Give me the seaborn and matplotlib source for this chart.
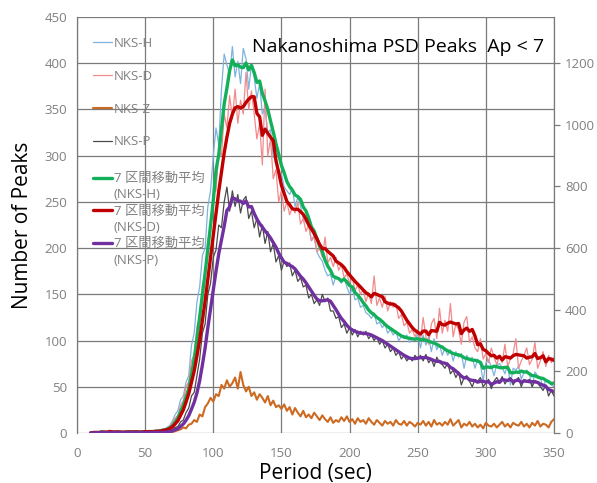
import numpy as np
import pandas as pd
import matplotlib
matplotlib.use("Agg")
import matplotlib.pyplot as plt
from matplotlib.lines import Line2D
import seaborn as sns

# ---------------- data ----------------
period = np.arange(10, 352, 2)  # sec

nks_h = [
    0, 1, 0, 1, 2, 0, 1, 1, 0, 2,
    1, 0, 1, 2, 1, 1, 2, 0, 1, 2,
    1, 2, 1, 2, 3, 2, 4, 4, 6, 8,
    13, 20, 24, 36, 40, 55, 62, 95, 108, 142,
    158, 192, 200, 245, 262, 300, 330, 312, 372, 410,
    398, 388, 418, 385, 402, 378, 416, 405, 372, 398,
    385, 362, 378, 345, 352, 325, 328, 298, 300, 280,
    280, 266, 262, 258, 265, 245, 255, 246, 232, 228,
    224, 208, 214, 196, 190, 186, 176, 170, 172, 160,
    170, 166, 162, 168, 158, 150, 156, 144, 146, 136,
    138, 130, 128, 124, 130, 118, 120, 114, 118, 108,
    112, 106, 110, 100, 104, 102, 106, 98, 102, 100,
    108, 92, 106, 95, 104, 88, 102, 90, 96, 84,
    92, 84, 90, 78, 88, 82, 86, 70, 84, 79,
    82, 70, 80, 74, 56, 76, 79, 72, 62, 74,
    75, 71, 64, 74, 52, 70, 68, 72, 58, 66,
    68, 64, 50, 66, 62, 60, 48, 58, 56, 52,
    50,
]

nks_d = [
    0, 1, 1, 0, 2, 1, 0, 3, 1, 0,
    1, 2, 0, 1, 2, 1, 0, 2, 1, 1,
    2, 1, 2, 1, 3, 2, 3, 4, 5, 7,
    11, 16, 19, 30, 35, 50, 55, 78, 85, 115,
    125, 160, 170, 210, 218, 260, 262, 305, 300, 345,
    330, 365, 340, 372, 335, 360, 345, 390, 350, 370,
    345, 318, 335, 290, 372, 300, 318, 275, 285, 250,
    262, 240, 250, 236, 244, 238, 250, 226, 232, 218,
    225, 208, 212, 196, 200, 190, 212, 184, 190, 180,
    190, 176, 182, 168, 172, 162, 168, 154, 160, 150,
    155, 142, 152, 140, 170, 138, 146, 136, 148, 132,
    142, 136, 140, 124, 128, 116, 120, 108, 112, 104,
    112, 100, 125, 104, 96, 118, 124, 102, 135, 108,
    122, 110, 140, 104, 118, 112, 96, 120, 126, 98,
    104, 92, 88, 102, 80, 86, 76, 92, 82, 74,
    84, 76, 96, 72, 80, 86, 102, 70, 78, 84,
    92, 74, 80, 98, 70, 78, 88, 72, 84, 76,
    82,
]

nks_z = [
    0, 0, 1, 0, 0, 1, 0, 0, 0, 1,
    0, 0, 1, 0, 0, 0, 1, 0, 0, 1,
    0, 1, 0, 0, 1, 0, 1, 1, 1, 2,
    1, 2, 3, 4, 6, 5, 9, 10, 14, 12,
    20, 18, 28, 32, 38, 34, 42, 40, 52, 48,
    57, 50, 54, 60, 48, 66, 52, 45, 50, 40,
    44, 36, 42, 38, 33, 40, 30, 35, 28, 30,
    26, 31, 24, 28, 20, 27, 22, 18, 24, 17,
    20, 16, 22, 18, 14, 19, 15, 12, 17, 11,
    14, 12, 17, 13, 18, 12, 15, 10, 16, 12,
    14, 10, 16, 12, 9, 14, 11, 8, 13, 10,
    12, 8, 14, 10, 9, 13, 8, 12, 10, 7,
    11, 9, 13, 8, 12, 7, 14, 9, 11, 8,
    12, 9, 15, 8, 11, 14, 6, 10, 8, 12,
    7, 10, 6, 9, 5, 11, 8, 7, 10, 6,
    9, 12, 7, 10, 6, 11, 9, 8, 12, 7,
    10, 6, 11, 8, 13, 7, 10, 9, 6, 12,
    15,
]

nks_p = [
    0, 0, 1, 0, 0, 1, 0, 0, 1, 0,
    0, 1, 0, 0, 1, 0, 1, 0, 0, 1,
    0, 1, 0, 1, 1, 0, 1, 1, 2, 2,
    4, 6, 7, 12, 14, 22, 27, 40, 44, 62,
    80, 108, 118, 150, 162, 190, 198, 225, 222, 250,
    266, 240, 262, 245, 258, 238, 252, 256, 232, 240,
    222, 232, 212, 225, 205, 218, 196, 205, 185, 192,
    176, 186, 180, 184, 170, 176, 164, 168, 158, 160,
    146, 150, 140, 144, 138, 150, 142, 146, 132, 132,
    124, 126, 114, 118, 108, 114, 106, 112, 104, 110,
    106, 110, 102, 106, 100, 104, 96, 100, 92, 96,
    88, 92, 84, 88, 80, 84, 78, 82, 78, 84,
    80, 84, 78, 85, 76, 80, 72, 82, 76, 74,
    70, 76, 64, 68, 60, 66, 52, 60, 62, 56,
    50, 58, 56, 60, 50, 54, 58, 48, 56, 60,
    55, 61, 53, 58, 60, 52, 57, 60, 50, 58,
    56, 58, 50, 57, 54, 50, 46, 52, 40, 46,
    40,
]

raw_labels = ["NKS-H", "NKS-D", "NKS-Z", "NKS-P"]
ma_label = "7 区間移動平均"
ma_targets = ["NKS-H", "NKS-D", "NKS-P"]
title_text = "Nakanoshima PSD Peaks  Ap < 7"
x_label = "Period (sec)"
y_label = "Number of Peaks"
x_ticks = [0, 50, 100, 150, 200, 250, 300, 350]
y_ticks = [0, 50, 100, 150, 200, 250, 300, 350, 400, 450]
y2_ticks = [0, 200, 400, 600, 800, 1000, 1200]

MA_WINDOW = 4  # 7-sec trailing window on the 2-sec grid

# ---------------- build data ----------------
df = pd.DataFrame({"Period": period, "NKS-H": nks_h, "NKS-D": nks_d,
                   "NKS-Z": nks_z, "NKS-P": nks_p})
for k in ma_targets:
    df["MA " + k] = df[k].rolling(MA_WINDOW, min_periods=1).mean()

# ---------------- style ----------------
sns.set_theme(style="white")
plt.rcParams["font.family"] = ["Open Sans", "Noto Sans CJK JP", "DejaVu Sans"]

raw_colors = {"NKS-H": "#7fb3df", "NKS-D": "#f28a8c", "NKS-Z": "#cc6a22", "NKS-P": "#4a4a4a"}
raw_lw = {"NKS-H": 0.9, "NKS-D": 0.9, "NKS-Z": 1.5, "NKS-P": 0.9}
ma_colors = {"NKS-H": "#13b05a", "NKS-D": "#c00000", "NKS-P": "#7030a0"}
grid_c = "#7a7a7a"
tick_c = "#808080"

fig = plt.figure(figsize=(5.97, 4.83), dpi=100)
ax = fig.add_axes([77 / 597, 50 / 483, 477 / 597, 416 / 483])

for k in raw_labels:
    sns.lineplot(data=df, x="Period", y=k, ax=ax, color=raw_colors[k],
                 linewidth=raw_lw[k], zorder=3)
for k in ma_targets:
    sns.lineplot(data=df, x="Period", y="MA " + k, ax=ax, color=ma_colors[k],
                 linewidth=2.4, zorder=4)

ax.set_xlim(0, 350)
ax.set_ylim(0, 450)
ax.set_xticks(x_ticks)
ax.set_yticks(y_ticks)
ax.grid(True, color=grid_c, linewidth=0.9)
ax.set_axisbelow(True)
for s in ax.spines.values():
    s.set_visible(False)
ax.spines["left"].set_visible(True)
ax.spines["left"].set_color(grid_c)
ax.spines["left"].set_linewidth(0.9)
ax.tick_params(axis="both", length=0, labelsize=9.5, labelcolor=tick_c)
ax.tick_params(axis="x", pad=10)
ax.tick_params(axis="y", pad=7)
ax.set_xlabel(x_label, fontsize=15, color="black", labelpad=2)
ax.set_ylabel(y_label, fontsize=15, color="black", labelpad=8)

ax2 = ax.twinx()
ax2.set_ylim(0, 1350)
ax2.set_yticks(y2_ticks)
for s in ax2.spines.values():
    s.set_visible(False)
ax2.spines["right"].set_visible(True)
ax2.spines["right"].set_color(grid_c)
ax2.spines["right"].set_linewidth(0.9)
ax2.tick_params(axis="y", length=4, width=0.9, color=grid_c, labelsize=9.5,
                labelcolor=tick_c, pad=4, direction="out")
ax2.grid(False)

ax.text(0.673, 0.928, title_text, transform=ax.transAxes, ha="center",
        va="center", fontsize=14, color="black", zorder=6)

# legends
h1 = [Line2D([], [], color=raw_colors[k], linewidth=raw_lw[k]) for k in raw_labels]
leg1 = ax.legend(h1, raw_labels, loc="upper left", bbox_to_anchor=(0.034, 0.952),
                 frameon=False, fontsize=9.5, labelcolor=tick_c, handlelength=1.4,
                 handletextpad=0.15, labelspacing=1.5, borderpad=0, borderaxespad=0)
ax.add_artist(leg1)

h2, l2 = [], []
for k in ma_targets:
    h2.append(Line2D([], [], color=ma_colors[k], linewidth=2.4))
    l2.append(ma_label)
    h2.append(Line2D([], [], color="none"))
    l2.append("(" + k + ")")
leg2 = ax.legend(h2, l2, loc="upper left", bbox_to_anchor=(0.034, 0.627),
                 frameon=False, fontsize=9.5, labelcolor=tick_c, handlelength=1.4,
                 handletextpad=0.15, labelspacing=0.25, borderpad=0, borderaxespad=0)
leg2.set_zorder(6)
leg1.set_zorder(6)

fig.savefig("out.png", dpi=100)
